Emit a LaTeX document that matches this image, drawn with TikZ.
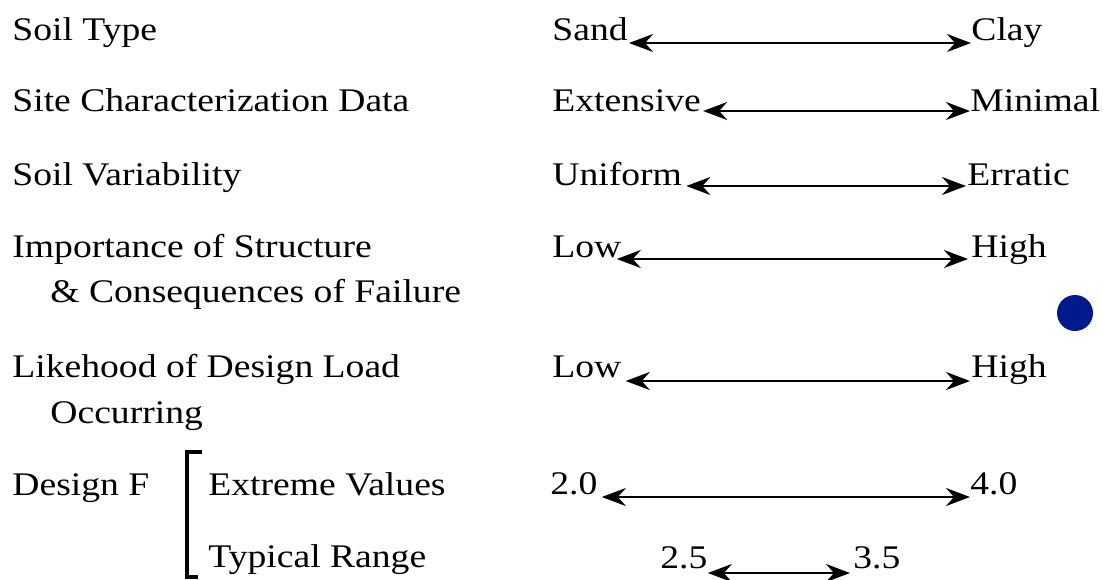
\documentclass[tikz,border=0pt]{standalone}
\usepackage{fontspec}
\setmainfont{Liberation Serif}[FakeStretch=1.14]
\usetikzlibrary{arrows.meta}
\definecolor{dotblue}{RGB}{0,26,140}
\tikzset{
  lbl/.style={anchor=base west,inner sep=0pt},
  tip/.tip={Stealth[length=12pt,width=9pt,inset=4pt]},
  rng/.style={tip-tip,line width=1.2pt}
}
\begin{document}
\begin{tikzpicture}[x=0.5pt,y=-0.5pt,font=\fontsize{16.5}{19}\selectfont]
  \useasboundingbox (0,0) rectangle (1103,579);
  % soil type
  \node[lbl] (soil) at (12,40) {Soil Type};
  \node[lbl] (sand) at (552,40) {Sand};
  \node[lbl] (clay) at (971,40) {Clay};
  \draw[rng] ([shift={(1,3)}]sand.base east) -- ([shift={(0,3)}]clay.base west);

  % site data
  \node[lbl] (site) at (12,111) {Site Characterization Data};
  \node[lbl] (ext) at (552,111) {Extensive};
  \node[lbl] (mini) at (970,111) {Minimal};
  \draw[rng] ([shift={(2,0)}]ext.base east) -- ([shift={(0,0)}]mini.base west);

  % variability
  \node[lbl] (var) at (12,185) {Soil Variability};
  \node[lbl] (unif) at (552,185) {Uniform};
  \node[lbl] (errat) at (967,185) {Erratic};
  \draw[rng] ([shift={(4,1)}]unif.base east) -- ([shift={(-1,1)}]errat.base west);

  % importance
  \node[lbl] (imp) at (12,257) {Importance of Structure};
  \node[lbl] (cons) at (50,302) {\& Consequences of Failure};
  \node[lbl] (lowa) at (552,257) {Low};
  \node[lbl] (higha) at (971,257) {High};
  \draw[rng] ([shift={(-5,2)}]lowa.base east) -- ([shift={(-3,2)}]higha.base west);

  % likehood
  \node[lbl] (like) at (12,377) {Likehood of Design Load};
  \node[lbl] (occ) at (50,423) {Occurring};
  \node[lbl] (lowb) at (552,377) {Low};
  \node[lbl] (highb) at (971,377) {High};
  \draw[rng] ([shift={(4,4)}]lowb.base east) -- ([shift={(-1,4)}]highb.base west);

  % design F
  \node[lbl] (dsgn) at (12,495) {Design F};
  \draw[line width=2pt] (202,452) -| (187,577) -- (198,577);
  \node[lbl] (xtrm) at (208,495) {Extreme Values};
  \node[lbl] (typ) at (208,567) {Typical Range};
  \node[lbl] (vlo) at (550,494) {2.0};
  \node[lbl] (vhi) at (970,494) {4.0};
  \draw[rng] ([shift={(4,3)}]vlo.base east) -- ([shift={(0,3)}]vhi.base west);
  \node[lbl] (tlo) at (660,568) {2.5};
  \node[lbl] (thi) at (853,568) {3.5};
  \draw[rng] ([shift={(0,5)}]tlo.base east) -- ([shift={(-3,5)}]thi.base west);

  % dot
  \fill[dotblue] (1075,313) circle (9pt);
\end{tikzpicture}
\end{document}
